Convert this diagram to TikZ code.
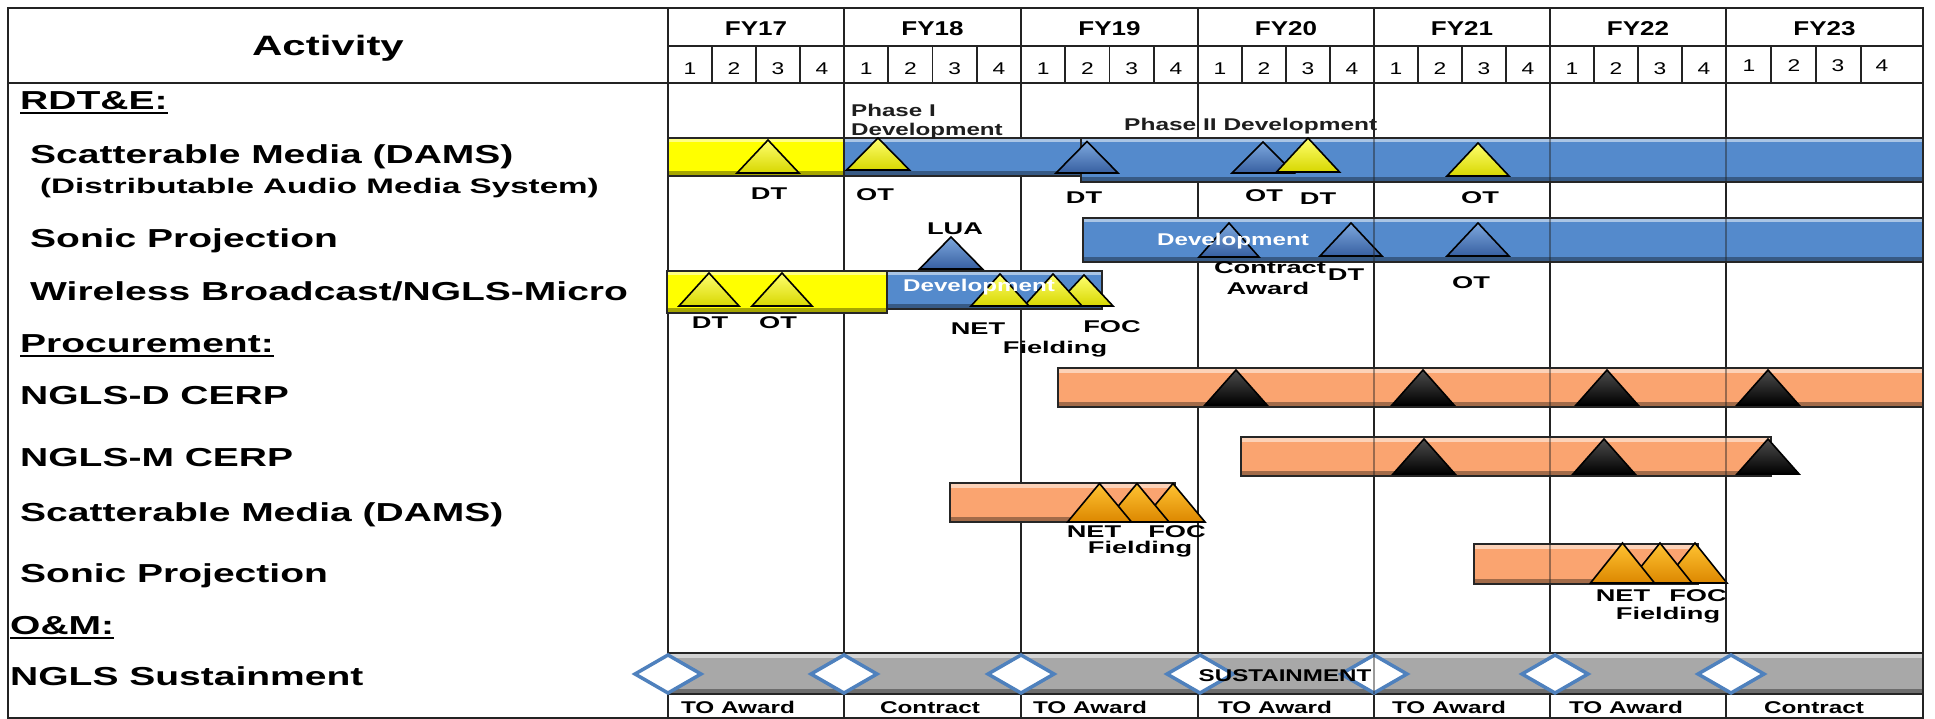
\documentclass[tikz,border=0pt]{standalone}
\usepackage{fontspec}
\setmainfont{Liberation Sans}
\usepackage{graphicx}

\definecolor{barblue}{RGB}{84,138,204}
\definecolor{baryellow}{RGB}{255,255,0}
\definecolor{barsalmon}{RGB}{250,164,112}
\definecolor{bargray}{RGB}{168,168,168}
\definecolor{gridline}{RGB}{35,35,35}
\definecolor{dmdblue}{RGB}{79,129,189}
\definecolor{phasetext}{RGB}{30,30,30}
\definecolor{ytop}{RGB}{255,255,110}
\definecolor{ybot}{RGB}{215,215,0}
\definecolor{btop}{RGB}{125,168,222}
\definecolor{bbot}{RGB}{55,95,160}
\definecolor{otop}{RGB}{255,195,50}
\definecolor{obot}{RGB}{220,135,0}

% horizontal stretch of a text
\newcommand\sx[2]{\scalebox{#1}[1]{#2}}

\tikzset{
  grid/.style={draw=gridline, line width=1.6pt},
  bar/.style={fill=#1, draw=black!85, line width=1.5pt,
    path picture={
      \fill[#1!50!white] ([yshift=-0.8pt]path picture bounding box.north west)
        rectangle ([yshift=-4.5pt]path picture bounding box.north east);
      \fill[#1!65!black] ([yshift=0.8pt]path picture bounding box.south west)
        rectangle ([yshift=5pt]path picture bounding box.south east);
    }},
  ytri/.style={draw=black, line width=1.6pt, top color=ytop, bottom color=ybot},
  btri/.style={draw=black, line width=1.6pt, top color=btop, bottom color=bbot},
  ktri/.style={draw=black, line width=1.6pt, top color=black!70, bottom color=black},
  otri/.style={draw=black, line width=1.6pt, top color=otop, bottom color=obot},
  dmd/.style={fill=white, draw=dmdblue, line width=3.5pt},
  pics/tri/.style 2 args={code={\path[pic actions] (-#1,0) -- (0,-#2) -- (#1,0) -- cycle;}},
  pics/diam/.style={code={\path[pic actions] (-33,0) -- (0,-19) -- (33,0) -- (0,19) -- cycle;}},
  uline/.style={draw=black, line width=2pt},
  headlab/.style={inner sep=0pt, text height=20pt, text depth=0pt,
    font=\fontsize{28}{30}\selectfont\bfseries},
  rowlab/.style={anchor=west, inner sep=0pt, text height=18.6pt, text depth=0pt,
    font=\fontsize{26}{28}\selectfont\bfseries},
  sublab/.style={anchor=west, inner sep=0pt, text height=15pt, text depth=0pt,
    font=\fontsize{21}{23}\selectfont\bfseries},
  fylab/.style={inner sep=0pt, text height=14.3pt, text depth=0pt,
    font=\fontsize{20}{22}\selectfont\bfseries},
  qlab/.style={inner sep=0pt, text height=12.2pt, text depth=0pt,
    font=\fontsize{17}{19}\selectfont},
  mlab/.style={inner sep=0pt, text height=12.2pt, text depth=0pt,
    font=\fontsize{17}{19}\selectfont\bfseries},
  phlab/.style={inner sep=0pt, text height=12.2pt, text depth=0pt, text=phasetext,
    font=\fontsize{17}{19}\selectfont\bfseries},
  devlab/.style={inner sep=0pt, text height=12.2pt, text depth=0pt, text=white,
    font=\fontsize{17}{19}\selectfont\bfseries},
  botlab/.style={inner sep=0pt, text height=12.2pt, text depth=0pt,
    font=\fontsize{17}{19}\selectfont\bfseries},
}

\begin{document}
\begin{tikzpicture}[x=1pt,y=-1pt]
\fill[white] (0,0) rectangle (1935,719);
\useasboundingbox (0,0) rectangle (1935,719);

% ---------- grid ----------
\foreach \x in {668,844,1021,1198,1374,1550,1726}
  \draw[grid] (\x,8) -- (\x,718);
\foreach \a/\w in {668/176,844/177,1021/177,1198/176,1374/176,1550/176}
  \foreach \q in {1,2,3}
    \draw[grid] ({\a+\q*\w/4},46) -- ({\a+\q*\w/4},83);
\foreach \x in {1771,1816,1861}
  \draw[grid] (\x,46) -- (\x,83);
\draw[grid] (668,46) -- (1923,46);
\draw[grid] (8,83) -- (1923,83);
\draw[grid] (8,8) rectangle (1923,718);

% ---------- header ----------
\node[headlab] (activity) at (328,45.5) {\sx{1.5}{Activity}};
\foreach \a/\b/\t in {668/844/17,844/1021/18,1021/1198/19,1198/1374/20,1374/1550/21,1550/1726/22,1726/1923/23}
  \node[fylab] (fy\t) at ({(\a+\b)/2},28) {\sx{1.3}{FY\t}};
\foreach \a/\w/\t in {668/176/17,844/177/18,1021/177/19,1198/176/20,1374/176/21,1550/176/22}
  \foreach \q in {1,2,3,4}
    \node[qlab] (q\t-\q) at ({\a+(\q-0.5)*\w/4},68) {\sx{1.34}{\q}};
\foreach \x/\q in {1749/1,1794/2,1838/3,1882/4}
  \node[qlab] (q23-\q) at (\x,65) {\sx{1.34}{\q}};

% ---------- activity column ----------
\node[rowlab] (rdte) at (20,100) {\sx{1.5}{RDT\&E:}};
\draw[uline] ([yshift=-3.5pt]rdte.south west) -- ([yshift=-3.5pt]rdte.south east);
\node[rowlab] (damsR) at (30,154.5) {\sx{1.5}{Scatterable Media (DAMS)}};
\node[sublab] (damsFull) at (40,186) {\sx{1.58}{(Distributable Audio Media System)}};
\node[rowlab] (sonicR) at (30,238) {\sx{1.5}{Sonic Projection}};
\node[rowlab] (wireless) at (30,291) {\sx{1.5}{Wireless Broadcast/NGLS-Micro}};
\node[rowlab] (proc) at (20,343) {\sx{1.5}{Procurement:}};
\draw[uline] ([yshift=-3.5pt]proc.south west) -- ([yshift=-3.5pt]proc.south east);
\node[rowlab] (nglsd) at (20,395.5) {\sx{1.5}{NGLS-D CERP}};
\node[rowlab] (nglsm) at (20,457.5) {\sx{1.5}{NGLS-M CERP}};
\node[rowlab] (damsP) at (20,511.7) {\sx{1.5}{Scatterable Media (DAMS)}};
\node[rowlab] (sonicP) at (20,572.7) {\sx{1.5}{Sonic Projection}};
\node[rowlab] (om) at (10,625) {\sx{1.5}{O\&M:}};
\draw[uline] ([yshift=-3.5pt]om.south west) -- ([yshift=-3.5pt]om.south east);
\node[rowlab] (sust) at (10,675.7) {\sx{1.5}{NGLS Sustainment}};

% ---------- RDT&E: Scatterable Media ----------
\path[bar=baryellow] (668,138) rectangle (844,176);
\path[bar=barblue] (844,138) rectangle (1085,176);
\path[bar=barblue] (1081,138) rectangle (1923,182);
\pic[ytri] at (768,173) {tri={31}{33}};
\pic[ytri] at (878,170) {tri={31.5}{32}};
\pic[btri] at (1087,173) {tri={31}{31.5}};
\pic[btri] at (1263,173) {tri={31}{31}};
\pic[ytri] at (1308,172) {tri={31.5}{34}};
\pic[ytri] at (1478,176) {tri={31}{33}};
\node[phlab, anchor=west] (ph1a) at (851,110.8) {\sx{1.42}{Phase I}};
\node[phlab, anchor=west] (ph1b) at (851,129) {\sx{1.42}{Development}};
\node[phlab, anchor=west] (ph2) at (1124,124) {\sx{1.44}{Phase II Development}};
\node[mlab] (damsDT1) at (769,193) {\sx{1.6}{DT}};
\node[mlab] (damsOT1) at (875,194) {\sx{1.6}{OT}};
\node[mlab] (damsDT2) at (1084,197) {\sx{1.6}{DT}};
\node[mlab] (damsOT2) at (1264,195) {\sx{1.6}{OT}};
\node[mlab] (damsDT3) at (1318,198) {\sx{1.6}{DT}};
\node[mlab] (damsOT3) at (1480,197) {\sx{1.6}{OT}};

% ---------- RDT&E: Sonic Projection ----------
\path[bar=barblue] (1083,218) rectangle (1923,262);
\pic[btri] at (1229,257) {tri={30}{34}};
\node[devlab] (sonicDev) at (1233,239) {\sx{1.42}{Development}};
\pic[btri] at (1351,256) {tri={31}{33}};
\pic[btri] at (1478,256) {tri={31}{33}};
\node[mlab] (award1) at (1270,267) {\sx{1.6}{Contract}};
\node[mlab] (award2) at (1268,288) {\sx{1.6}{Award}};
\node[mlab] (sonicDT) at (1346,274) {\sx{1.6}{DT}};
\node[mlab] (sonicOT) at (1471,282) {\sx{1.6}{OT}};

% ---------- RDT&E: Wireless Broadcast ----------
\path[bar=baryellow] (667,271) rectangle (887,313);
\path[bar=barblue] (887,271) rectangle (1102,309);
\pic[btri] at (951,269) {tri={31.5}{32}};
\node[mlab] (lua) at (955,228) {\sx{1.6}{LUA}};
\pic[ytri] at (709,306) {tri={30}{33}};
\pic[ytri] at (782,306) {tri={30}{33}};
\pic[ytri] at (1084,306) {tri={29}{31}};
\pic[ytri] at (1053,306) {tri={29}{32}};
\pic[ytri] at (1000,306) {tri={29}{32}};
\node[devlab] (wbDev) at (979,285) {\sx{1.42}{Development}};
\node[mlab] (wbDT) at (710,322) {\sx{1.6}{DT}};
\node[mlab] (wbOT) at (778,322) {\sx{1.6}{OT}};
\node[mlab] (wbNET) at (978,328) {\sx{1.6}{NET}};
\node[mlab] (wbFOC) at (1112,326) {\sx{1.6}{FOC}};
\node[mlab] (wbFld) at (1055,347) {\sx{1.6}{Fielding}};

% ---------- Procurement ----------
\path[bar=barsalmon] (1058,368) rectangle (1923,407);
\foreach \c in {1236,1423,1607,1768}
  \pic[ktri] at (\c,405) {tri={31}{35}};
\path[bar=barsalmon] (1241,437) rectangle (1771,476);
\foreach \c in {1424,1604,1768}
  \pic[ktri] at (\c,474) {tri={31}{35}};
\path[bar=barsalmon] (950,483) rectangle (1175,522);
\foreach \c in {1173,1137,1099.5}
  \pic[otri] at (\c,522) {tri={32}{38.5}};
\node[mlab] (pdNET) at (1094,531) {\sx{1.6}{NET}};
\node[mlab] (pdFOC) at (1177,531) {\sx{1.6}{FOC}};
\node[mlab] (pdFld) at (1140,547) {\sx{1.6}{Fielding}};
\path[bar=barsalmon] (1474,544) rectangle (1698,584);
\foreach \c in {1695,1660,1622.5}
  \pic[otri] at (\c,583) {tri={32}{40}};
\node[mlab] (psNET) at (1623,595) {\sx{1.6}{NET}};
\node[mlab] (psFOC) at (1698,595) {\sx{1.6}{FOC}};
\node[mlab] (psFld) at (1668,613) {\sx{1.6}{Fielding}};

% year lines showing through the bars on the right
\foreach \x in {1374,1550,1726}
  \draw[grid, opacity=0.45] (\x,83) -- (\x,653);

% ---------- O&M ----------
\path[bar=bargray] (668,653) rectangle (1923,694);
\foreach \x in {668,844,1021,1200,1374,1555,1731}
  \pic[dmd] at (\x,674) {diam};
\draw[grid, opacity=0.45] (1374,653) -- (1374,694);
\node[botlab] (sustTxt) at (1285,675) {\sx{1.42}{SUSTAINMENT}};
\node[botlab] (b17) at (738,707) {\sx{1.43}{TO Award}};
\node[botlab] (b18) at (930,707) {\sx{1.43}{Contract}};
\node[botlab] (b19) at (1090,707) {\sx{1.43}{TO Award}};
\node[botlab] (b20) at (1275,707) {\sx{1.43}{TO Award}};
\node[botlab] (b21) at (1449,707) {\sx{1.43}{TO Award}};
\node[botlab] (b22) at (1626,707) {\sx{1.43}{TO Award}};
\node[botlab] (b23) at (1814,707) {\sx{1.43}{Contract}};
\end{tikzpicture}
\end{document}
